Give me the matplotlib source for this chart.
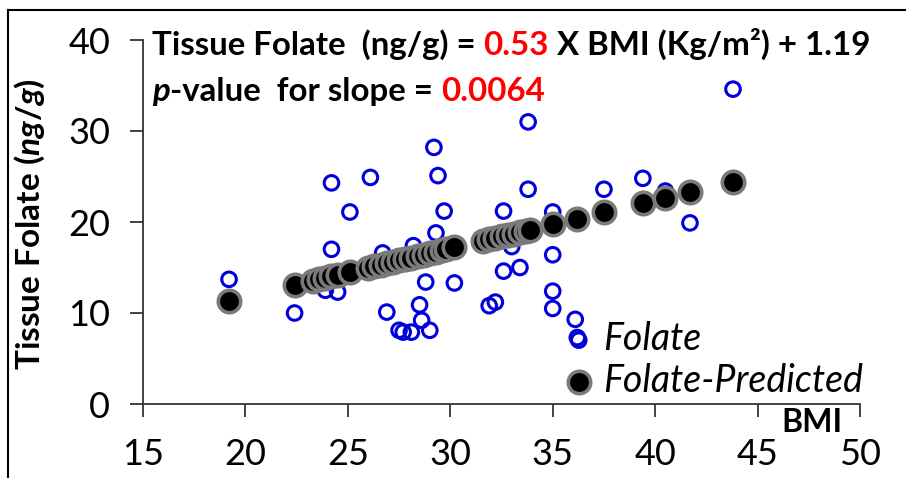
import matplotlib.pyplot as plt
from matplotlib.lines import Line2D

plt.rcParams['font.family'] = ['Lato', 'DejaVu Sans']
plt.rcParams['mathtext.fontset'] = 'custom'
plt.rcParams['mathtext.rm'] = 'Lato:bold'
plt.rcParams['mathtext.it'] = 'Lato:bold:italic'
plt.rcParams['mathtext.bf'] = 'Lato:bold'

# measured tissue folate vs BMI
bmi = [19.2, 22.4, 23.8, 23.9, 24.2, 24.2, 24.5, 25.1, 26.1, 26.7, 26.9, 27.5,
       27.7, 28.1, 28.2, 28.5, 28.6, 28.8, 29.0, 29.2, 29.3, 29.4, 29.7, 30.2,
       31.9, 32.2, 32.6, 32.6, 33.0, 33.4, 33.8, 33.8, 35.0, 35.0, 35.0, 35.0,
       36.1, 36.2, 37.5, 39.4, 40.5, 41.7, 43.8]
folate = [13.7, 10.0, 13.6, 12.5, 24.3, 17.0, 12.3, 21.1, 24.9, 16.6, 10.1, 8.1,
          7.9, 7.9, 17.4, 10.9, 9.2, 13.4, 8.1, 28.2, 18.8, 25.1, 21.2, 13.3,
          10.8, 11.2, 21.2, 14.6, 17.3, 15.0, 31.0, 23.6, 21.1, 16.4, 12.4, 10.5,
          9.3, 7.3, 23.6, 24.8, 23.4, 19.9, 34.6]

# predicted values (on the regression line)
pred_bmi = [19.2, 22.4, 23.3, 23.6, 23.9, 24.2, 24.5, 25.1, 26.0, 26.3, 26.6,
            26.9, 27.2, 27.5, 27.8, 28.1, 28.4, 28.7, 29.0, 29.3, 29.6, 29.8,
            30.2, 31.6, 31.9, 32.2, 32.5, 32.8, 33.1, 33.4, 33.7, 33.9, 35.0,
            36.2, 37.5, 39.4, 40.5, 41.7, 43.8]
pred_folate = [11.37, 13.06, 13.54, 13.70, 13.86, 14.02, 14.18, 14.49, 14.97,
               15.13, 15.29, 15.45, 15.61, 15.77, 15.92, 16.08, 16.24, 16.40,
               16.56, 16.72, 16.88, 16.98, 17.20, 17.94, 18.10, 18.26, 18.42,
               18.57, 18.73, 18.89, 19.05, 19.16, 19.74, 20.38, 21.07, 22.07,
               22.66, 23.29, 24.40]

x_ticks = [15, 20, 25, 30, 35, 40, 45, 50]
y_ticks = [0, 10, 20, 30, 40]

W, H = 906, 478
fig = plt.figure(figsize=(W / 100, H / 100), dpi=100)
ax = fig.add_axes([143 / W, 1 - 404 / H, (860 - 143) / W, (404 - 40) / H])

ax.scatter(bmi, folate, s=110, facecolors='none', edgecolors='#0000dd',
           linewidths=2.2, label='Folate', zorder=2, clip_on=False)
ax.scatter(pred_bmi, pred_folate, s=260, color='black', edgecolors='#7a7a7a',
           linewidths=2.6, label='Folate-Predicted', zorder=3, clip_on=False)

ax.set_xlim(15, 50)
ax.set_ylim(0, 40)
ax.set_xticks(x_ticks)
ax.set_yticks(y_ticks)
for s in ['top', 'right']:
    ax.spines[s].set_visible(False)
for s in ['left', 'bottom']:
    ax.spines[s].set_color('#333333')
    ax.spines[s].set_linewidth(1.3)
ax.tick_params(direction='out', length=9.5, width=1.3, color='#333333',
               labelsize=26, pad=14)
ax.tick_params(axis='x', pad=15)

ax.set_ylabel(r'$\mathrm{Tissue\ Folate\ (}\mathit{ng/g}\mathrm{)}$', fontsize=24)
ax.yaxis.set_label_coords(47 / W, 1 - 224 / H, transform=fig.transFigure)
fig.text(812 / W, 1 - 423 / H, 'BMI', fontsize=23, fontweight='bold',
         ha='center', va='center')

ax.legend(loc='upper left', bbox_to_anchor=(560 / W, 1 - 321 / H),
          bbox_transform=fig.transFigure, frameon=False,
          prop={'style': 'italic', 'size': 27}, handlelength=1.0,
          handletextpad=0.15, labelspacing=0.15, borderaxespad=0, borderpad=0)


def chain(pieces, x, y):
    t = None
    for s, c, st in pieces:
        kw = dict(color=c, fontsize=23.8, fontweight='bold', style=st)
        if t is None:
            t = fig.text(x, y, s, va='baseline', ha='left', **kw)
        else:
            t = ax.annotate(s, xy=(1, 0), xycoords=t, va='bottom', ha='left',
                            annotation_clip=False, **kw)


chain([('Tissue Folate  (ng/g) = ', 'black', 'normal'),
       ('0.53', '#ff0000', 'normal'),
       (' X BMI (Kg/m\u00b2) + 1.19', 'black', 'normal')],
      152 / W, 1 - 55 / H)
chain([('p', 'black', 'italic'),
       ('-value  for slope = ', 'black', 'normal'),
       ('0.0064', '#ff0000', 'normal')],
      152 / W, 1 - 101 / H)

# outer frame
fig.add_artist(Line2D([8 / W, 8 / W], [0, 1 - 10 / H], color='black', lw=1.5))
fig.add_artist(Line2D([8 / W, 1], [1 - 10 / H, 1 - 10 / H], color='black', lw=1.5))

fig.savefig('out.png', dpi=100)
